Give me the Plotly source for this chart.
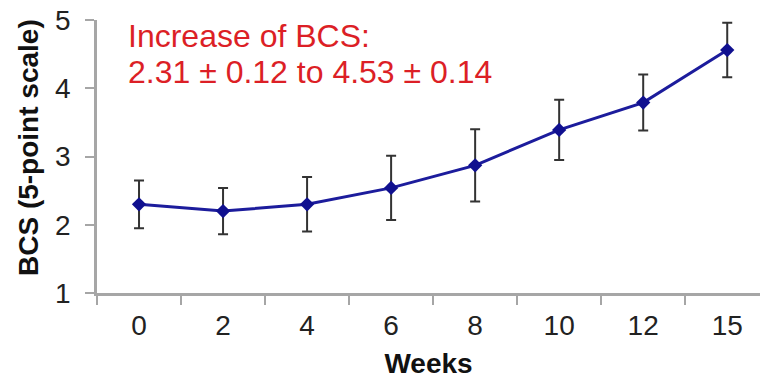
import plotly.graph_objects as go

weeks = ["0", "2", "4", "6", "8", "10", "12", "15"]
bcs_mean = [2.30, 2.20, 2.30, 2.54, 2.87, 3.39, 3.79, 4.56]
bcs_err = [0.35, 0.34, 0.40, 0.47, 0.53, 0.44, 0.41, 0.40]
y_ticks = [1, 2, 3, 4, 5]

AX = "#a6a6a6"
FONT = "Liberation Sans, Arial, sans-serif"

fig = go.Figure()
fig.add_trace(go.Scatter(
    x=weeks, y=bcs_mean,
    mode="lines+markers",
    line=dict(color="#1c1c9c", width=3),
    marker=dict(symbol="diamond", size=11, color="#10108f"),
    error_y=dict(type="data", array=bcs_err, visible=True,
                 color="#333333", thickness=2, width=5),
    showlegend=False,
))

fig.add_annotation(text="Increase of BCS:", xref="paper", yref="paper",
                   x=(126 - 97) / 663, y=(293 - 36) / 273, xanchor="left", yanchor="middle",
                   showarrow=False, font=dict(family=FONT, size=32, color="#dc1f26"))
fig.add_annotation(text="2.31 ± 0.12 to 4.53 ± 0.14", xref="paper", yref="paper",
                   x=(126 - 97) / 663, y=(293 - 72) / 273, xanchor="left", yanchor="middle",
                   showarrow=False, font=dict(family=FONT, size=32, color="#dc1f26"))
fig.add_annotation(text="<b>BCS (5-point scale)</b>", xref="paper", yref="paper",
                   x=-(97 - 28) / 663, y=(293 - 148) / 273, xanchor="center", yanchor="middle",
                   textangle=-90, showarrow=False,
                   font=dict(family=FONT, size=28, color="#111111"))

fig.update_layout(
    width=760, height=379,
    margin=dict(l=97, r=0, t=20, b=86),
    paper_bgcolor="white", plot_bgcolor="white",
    font=dict(family=FONT, color="#222222"),
    xaxis=dict(
        type="category", range=[-0.5, 7.39], automargin=False,
        tickson="boundaries", ticks="outside", ticklen=9, tickwidth=2, tickcolor=AX,
        showline=True, linecolor=AX, linewidth=2.5, showgrid=False, zeroline=False,
        tickfont=dict(size=28, color="#222222"), ticklabelstandoff=6,
        title=dict(text="<b>Weeks</b>", font=dict(size=28, color="#111111"), standoff=14),
    ),
    yaxis=dict(
        range=[1, 5], tickvals=y_ticks, ticks="outside", ticklen=9, tickwidth=2, tickcolor=AX,
        showline=True, linecolor=AX, linewidth=2.5, showgrid=False, zeroline=False,
        automargin=False,
        tickfont=dict(size=28, color="#222222"), ticklabelstandoff=9,
    ),
)

fig.write_html("out.html", config={"displayModeBar": False},
               post_script="document.body.style.margin='0';")
